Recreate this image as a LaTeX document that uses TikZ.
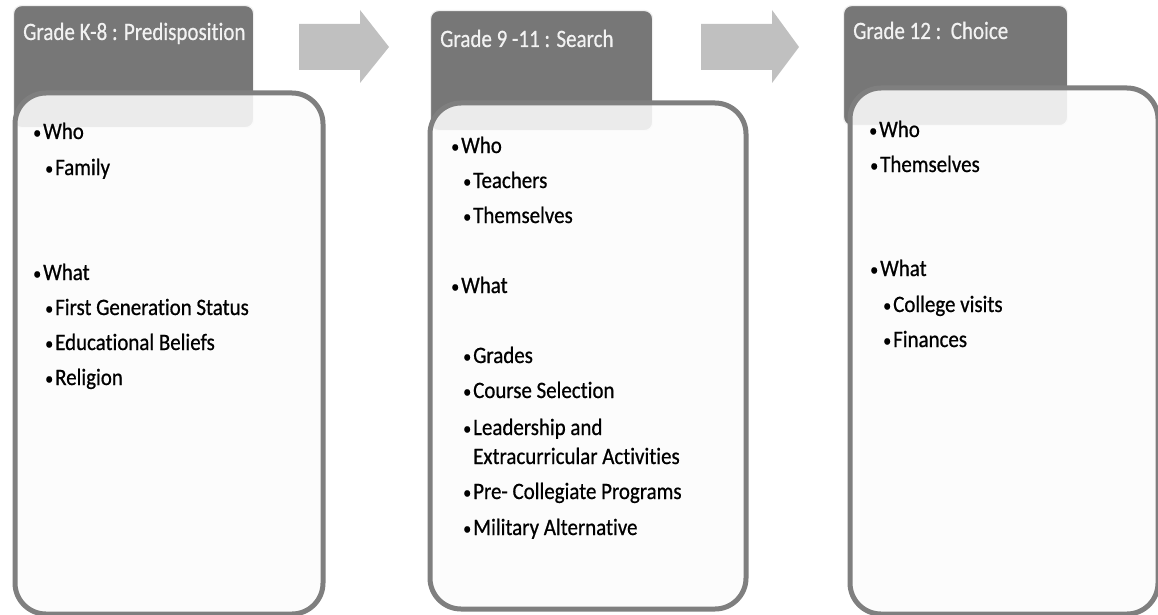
\documentclass[tikz,border=0pt]{standalone}
\usepackage{fontspec}
\setmainfont{Carlito}[FakeStretch=0.89,FakeBold=0.7,Ligatures=NoCommon]
\newfontfamily\hdfont{Carlito}[FakeStretch=0.84,FakeBold=0.5,Ligatures=NoCommon]
\definecolor{hdgray}{RGB}{119,119,119}
\definecolor{bordergray}{RGB}{127,127,127}
\definecolor{arrowgray}{RGB}{192,192,192}
\definecolor{bodyfill}{RGB}{252,252,252}
\definecolor{hdtext}{RGB}{242,242,242}
\begin{document}
\begin{tikzpicture}[x=1pt,y=-1pt,
  hdbox/.style={draw=black!6, line width=1.2pt, fill=hdgray, rounded corners=8pt, inner sep=0pt, anchor=north west},
  bodybox/.style={draw=bordergray, line width=5pt, fill=bodyfill, fill opacity=0.88, rounded corners=31pt, inner sep=0pt, anchor=north west},
  flowarrow/.style={fill=arrowgray, draw=none},
  hdlabel/.style={anchor=base west, inner sep=0pt, text=hdtext, font=\hdfont\fontsize{25}{29}\selectfont},
  itm/.style={anchor=base west, inner sep=0pt, text=black, font=\fontsize{23.5}{27}\selectfont},
]
\useasboundingbox (0,0) rectangle (1158,615);
\fill[white] (0,0) rectangle (1158,615);
\newcommand{\bl}{\llap{\raisebox{0.5pt}{\fontsize{18}{18}\selectfont •}\hspace{2pt}}}
% arrows
\fill[flowarrow] (299,24) -- (360,24) -- (360,10) -- (389,47) -- (360,83) -- (360,70) -- (299,70) -- cycle;
\fill[flowarrow] (701,24) -- (772,24) -- (772,10) -- (799,47) -- (772,83) -- (772,70) -- (701,70) -- cycle;
% headers
\node[hdbox, minimum width=240pt, minimum height=122pt] (h1) at (13,5) {};
\node[hdbox, minimum width=222pt, minimum height=120pt] (h2) at (430,10) {};
\node[hdbox, minimum width=224pt, minimum height=120pt] (h3) at (843,5) {};
% bodies
\node[bodybox, minimum width=308pt, minimum height=521pt] (b1) at (12.5,90.5) {};
\node[bodybox, minimum width=316pt, minimum height=506pt] (b2) at (427.5,100.5) {};
\node[bodybox, minimum width=308pt, minimum height=526pt] (b3) at (847.5,85.5) {};
% header labels
\node[hdlabel] (t1) at (23,40) {Grade K-8 : Predisposition};
\node[hdlabel] (t2) at (440,47) {Grade 9 -11 : Search};
\node[hdlabel] (t3) at (853,39) {Grade 12 :\ \ Choice};
% panel 1
\node[itm] (p1a) at (43,139) {\bl Who};
\node[itm] (p1b) at (55,175) {\bl Family};
\node[itm] (p1c) at (43,280) {\bl What};
\node[itm] (p1d) at (55,315) {\bl First Generation Status};
\node[itm] (p1e) at (55,350) {\bl Educational Beliefs};
\node[itm] (p1f) at (55,385) {\bl Religion};
% panel 2
\node[itm] (p2a) at (461,153) {\bl Who};
\node[itm] (p2b) at (473,188) {\bl Teachers};
\node[itm] (p2c) at (473,223) {\bl Themselves};
\node[itm] (p2d) at (461,293) {\bl What};
\node[itm] (p2e) at (473,363) {\bl Grades};
\node[itm] (p2f) at (473,398) {\bl Course Selection};
\node[itm] (p2g) at (473,435) {\bl Leadership and};
\node[itm] (p2h) at (473,464) {Extracurricular Activities};
\node[itm] (p2i) at (473,499) {\bl Pre- Collegiate Programs};
\node[itm] (p2j) at (473,535) {\bl Military Alternative};
% panel 3
\node[itm] (p3a) at (879,137) {\bl Who};
\node[itm] (p3b) at (880,172) {\bl Themselves};
\node[itm] (p3c) at (880,276) {\bl What};
\node[itm] (p3d) at (893,312) {\bl College visits};
\node[itm] (p3e) at (893,347) {\bl Finances};
\end{tikzpicture}
\end{document}
